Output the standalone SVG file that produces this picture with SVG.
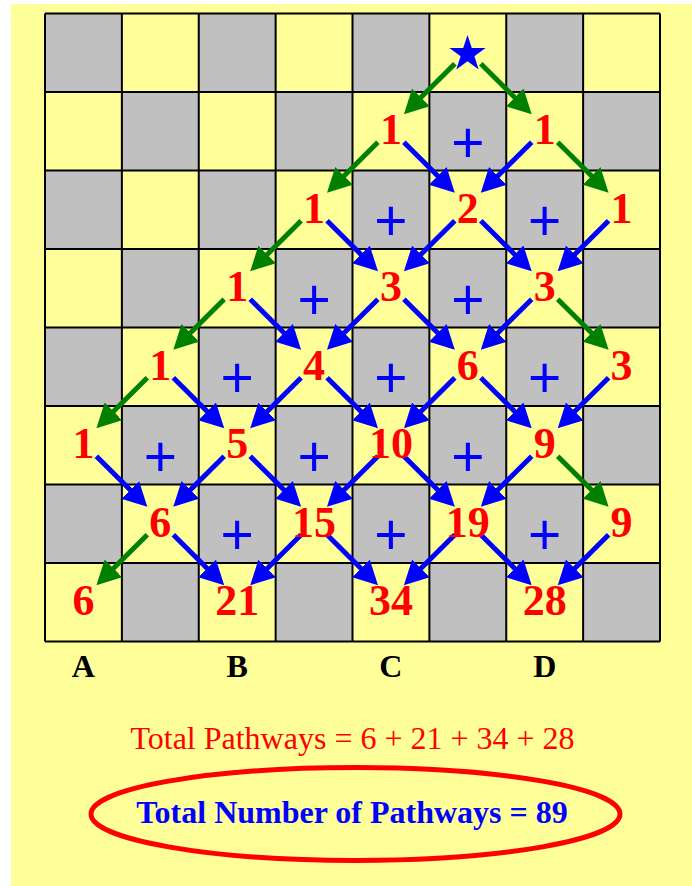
<svg xmlns="http://www.w3.org/2000/svg" width="692" height="886" viewBox="0 0 692 886">
<style>
.bg{fill:#FFFF99}
.g{fill:#C0C0C0}
.grid{fill:none;stroke:#000;stroke-width:2}
.num{font-family:"Liberation Serif","Times New Roman",serif;font-weight:bold;font-size:44px;fill:#FF0000;text-anchor:middle}
.plus{font-family:"Liberation Sans",Arial,sans-serif;font-size:57px;fill:#0000FF;text-anchor:middle}
.lab{font-family:"Liberation Serif","Times New Roman",serif;font-weight:bold;font-size:32px;fill:#000;text-anchor:middle}
.sum{font-family:"Liberation Serif","Times New Roman",serif;font-size:32px;fill:#FF0000;text-anchor:middle}
.tot{font-family:"Liberation Serif","Times New Roman",serif;font-weight:bold;font-size:32px;fill:#0000FF;text-anchor:middle}
.ab{stroke:#0000FF;stroke-width:5;marker-end:url(#mb)}
.ag{stroke:#008000;stroke-width:5;marker-end:url(#mg)}
</style>
<defs>
<marker id="mb" markerUnits="userSpaceOnUse" viewBox="0 0 24 25" markerWidth="24" markerHeight="25" refX="4" refY="12.5" orient="auto"><path d="M0,0 L24,12.5 L0,25 Z" fill="#0000FF"/></marker>
<marker id="mg" markerUnits="userSpaceOnUse" viewBox="0 0 24 25" markerWidth="24" markerHeight="25" refX="4" refY="12.5" orient="auto"><path d="M0,0 L24,12.5 L0,25 Z" fill="#008000"/></marker>
</defs>
<rect x="0" y="0" width="692" height="886" fill="#FFFFFF"/>
<rect class="bg" x="11" y="4" width="681" height="882"/>
<g id="board">
<rect class="bg" x="45" y="13.5" width="615" height="628"/>
<g class="g">
<rect x="45" y="13.5" width="76.875" height="78.5"/><rect x="198.75" y="13.5" width="76.875" height="78.5"/><rect x="352.5" y="13.5" width="76.875" height="78.5"/><rect x="506.25" y="13.5" width="76.875" height="78.5"/>
<rect x="121.875" y="92" width="76.875" height="78.5"/><rect x="275.625" y="92" width="76.875" height="78.5"/><rect x="429.375" y="92" width="76.875" height="78.5"/><rect x="583.125" y="92" width="76.875" height="78.5"/>
<rect x="45" y="170.5" width="76.875" height="78.5"/><rect x="198.75" y="170.5" width="76.875" height="78.5"/><rect x="352.5" y="170.5" width="76.875" height="78.5"/><rect x="506.25" y="170.5" width="76.875" height="78.5"/>
<rect x="121.875" y="249" width="76.875" height="78.5"/><rect x="275.625" y="249" width="76.875" height="78.5"/><rect x="429.375" y="249" width="76.875" height="78.5"/><rect x="583.125" y="249" width="76.875" height="78.5"/>
<rect x="45" y="327.5" width="76.875" height="78.5"/><rect x="198.75" y="327.5" width="76.875" height="78.5"/><rect x="352.5" y="327.5" width="76.875" height="78.5"/><rect x="506.25" y="327.5" width="76.875" height="78.5"/>
<rect x="121.875" y="406" width="76.875" height="78.5"/><rect x="275.625" y="406" width="76.875" height="78.5"/><rect x="429.375" y="406" width="76.875" height="78.5"/><rect x="583.125" y="406" width="76.875" height="78.5"/>
<rect x="45" y="484.5" width="76.875" height="78.5"/><rect x="198.75" y="484.5" width="76.875" height="78.5"/><rect x="352.5" y="484.5" width="76.875" height="78.5"/><rect x="506.25" y="484.5" width="76.875" height="78.5"/>
<rect x="121.875" y="563" width="76.875" height="78.5"/><rect x="275.625" y="563" width="76.875" height="78.5"/><rect x="429.375" y="563" width="76.875" height="78.5"/><rect x="583.125" y="563" width="76.875" height="78.5"/>
</g>
<path class="grid" d="M45,13.5V641.5M121.875,13.5V641.5M198.75,13.5V641.5M275.625,13.5V641.5M352.5,13.5V641.5M429.375,13.5V641.5M506.25,13.5V641.5M583.125,13.5V641.5M660,13.5V641.5M45,13.5H660M45,92H660M45,170.5H660M45,249H660M45,327.5H660M45,406H660M45,484.5H660M45,563H660M45,641.5H660"/>
</g>
<g id="plus-signs">
<text class="plus" x="467.8" y="161.8">+</text>
<text class="plus" x="390.9" y="240.3">+</text><text class="plus" x="544.7" y="240.3">+</text>
<text class="plus" x="314.1" y="318.8">+</text><text class="plus" x="467.8" y="318.8">+</text>
<text class="plus" x="237.2" y="397.3">+</text><text class="plus" x="390.9" y="397.3">+</text><text class="plus" x="544.7" y="397.3">+</text>
<text class="plus" x="160.3" y="475.8">+</text><text class="plus" x="314.1" y="475.8">+</text><text class="plus" x="467.8" y="475.8">+</text>
<text class="plus" x="237.2" y="554.3">+</text><text class="plus" x="390.9" y="554.3">+</text><text class="plus" x="544.7" y="554.3">+</text>
</g>
<g id="connectors">
<line class="ag" x1="454.8" y1="63.8" x2="418.1" y2="100.2"/>
<line class="ag" x1="480.8" y1="63.8" x2="517.5" y2="100.2"/>
<line class="ag" x1="377.9" y1="142.3" x2="341.2" y2="178.7"/>
<line class="ab" x1="403.9" y1="142.3" x2="440.6" y2="178.7"/>
<line class="ab" x1="531.7" y1="142.3" x2="495.0" y2="178.7"/>
<line class="ag" x1="557.7" y1="142.3" x2="594.4" y2="178.7"/>
<line class="ag" x1="301.1" y1="220.8" x2="264.4" y2="257.2"/>
<line class="ab" x1="327.1" y1="220.8" x2="363.8" y2="257.2"/>
<line class="ab" x1="454.8" y1="220.8" x2="418.1" y2="257.2"/>
<line class="ab" x1="480.8" y1="220.8" x2="517.5" y2="257.2"/>
<line class="ab" x1="608.6" y1="220.8" x2="571.9" y2="257.2"/>
<line class="ag" x1="224.2" y1="299.3" x2="187.5" y2="335.7"/>
<line class="ab" x1="250.2" y1="299.3" x2="286.9" y2="335.7"/>
<line class="ab" x1="377.9" y1="299.3" x2="341.2" y2="335.7"/>
<line class="ab" x1="403.9" y1="299.3" x2="440.6" y2="335.7"/>
<line class="ab" x1="531.7" y1="299.3" x2="495.0" y2="335.7"/>
<line class="ag" x1="557.7" y1="299.3" x2="594.4" y2="335.7"/>
<line class="ag" x1="147.3" y1="377.8" x2="110.6" y2="414.2"/>
<line class="ab" x1="173.3" y1="377.8" x2="210.0" y2="414.2"/>
<line class="ab" x1="301.1" y1="377.8" x2="264.4" y2="414.2"/>
<line class="ab" x1="327.1" y1="377.8" x2="363.8" y2="414.2"/>
<line class="ab" x1="454.8" y1="377.8" x2="418.1" y2="414.2"/>
<line class="ab" x1="480.8" y1="377.8" x2="517.5" y2="414.2"/>
<line class="ab" x1="608.6" y1="377.8" x2="571.9" y2="414.2"/>
<line class="ab" x1="96.4" y1="456.3" x2="133.1" y2="492.7"/>
<line class="ab" x1="224.2" y1="456.3" x2="187.5" y2="492.7"/>
<line class="ab" x1="250.2" y1="456.3" x2="286.9" y2="492.7"/>
<line class="ab" x1="377.9" y1="456.3" x2="341.2" y2="492.7"/>
<line class="ab" x1="403.9" y1="456.3" x2="440.6" y2="492.7"/>
<line class="ab" x1="531.7" y1="456.3" x2="495.0" y2="492.7"/>
<line class="ag" x1="557.7" y1="456.3" x2="594.4" y2="492.7"/>
<line class="ag" x1="147.3" y1="534.8" x2="110.6" y2="571.2"/>
<line class="ab" x1="173.3" y1="534.8" x2="210.0" y2="571.2"/>
<line class="ab" x1="301.1" y1="534.8" x2="264.4" y2="571.2"/>
<line class="ab" x1="327.1" y1="534.8" x2="363.8" y2="571.2"/>
<line class="ab" x1="454.8" y1="534.8" x2="418.1" y2="571.2"/>
<line class="ab" x1="480.8" y1="534.8" x2="517.5" y2="571.2"/>
<line class="ab" x1="608.6" y1="534.8" x2="571.9" y2="571.2"/>
</g>
<g id="start"><polygon fill="#0000FF" points="467.5,35 471.8,48.1 485.6,48.1 474.4,56.3 478.7,69.4 467.5,61.3 456.3,69.4 460.6,56.3 449.4,48.1 463.2,48.1"/></g>
<g id="n-r1c4"><text class="num" x="390.9" y="144.3">1</text></g>
<g id="n-r1c6"><text class="num" x="544.7" y="144.3">1</text></g>
<g id="n-r2c3"><text class="num" x="314.1" y="222.8">1</text></g>
<g id="n-r2c5"><text class="num" x="467.8" y="222.8">2</text></g>
<g id="n-r2c7"><text class="num" x="621.6" y="222.8">1</text></g>
<g id="n-r3c2"><text class="num" x="237.2" y="301.3">1</text></g>
<g id="n-r3c4"><text class="num" x="390.9" y="301.3">3</text></g>
<g id="n-r3c6"><text class="num" x="544.7" y="301.3">3</text></g>
<g id="n-r4c1"><text class="num" x="160.3" y="379.8">1</text></g>
<g id="n-r4c3"><text class="num" x="314.1" y="379.8">4</text></g>
<g id="n-r4c5"><text class="num" x="467.8" y="379.8">6</text></g>
<g id="n-r4c7"><text class="num" x="621.6" y="379.8">3</text></g>
<g id="n-r5c0"><text class="num" x="83.4" y="458.3">1</text></g>
<g id="n-r5c2"><text class="num" x="237.2" y="458.3">5</text></g>
<g id="n-r5c4"><text class="num" x="390.9" y="458.3">10</text></g>
<g id="n-r5c6"><text class="num" x="544.7" y="458.3">9</text></g>
<g id="n-r6c1"><text class="num" x="160.3" y="536.8">6</text></g>
<g id="n-r6c3"><text class="num" x="314.1" y="536.8">15</text></g>
<g id="n-r6c5"><text class="num" x="467.8" y="536.8">19</text></g>
<g id="n-r6c7"><text class="num" x="621.6" y="536.8">9</text></g>
<g id="n-r7c0"><text class="num" x="83.4" y="615.3">6</text></g>
<g id="n-r7c2"><text class="num" x="237.2" y="615.3">21</text></g>
<g id="n-r7c4"><text class="num" x="390.9" y="615.3">34</text></g>
<g id="n-r7c6"><text class="num" x="544.7" y="615.3">28</text></g>
<g id="labels">
<text class="lab" x="83.4" y="677">A</text>
<text class="lab" x="237.2" y="677">B</text>
<text class="lab" x="390.9" y="677">C</text>
<text class="lab" x="544.7" y="677">D</text>
</g>
<g id="sum"><text class="sum" x="352.5" y="748.5">Total Pathways = 6 + 21 + 34 + 28</text></g>
<g id="total">
<ellipse cx="355.5" cy="814" rx="264.5" ry="46.5" fill="none" stroke="#FF0000" stroke-width="5"/>
<text class="tot" x="352" y="822.5">Total Number of Pathways = 89</text>
</g>
</svg>
